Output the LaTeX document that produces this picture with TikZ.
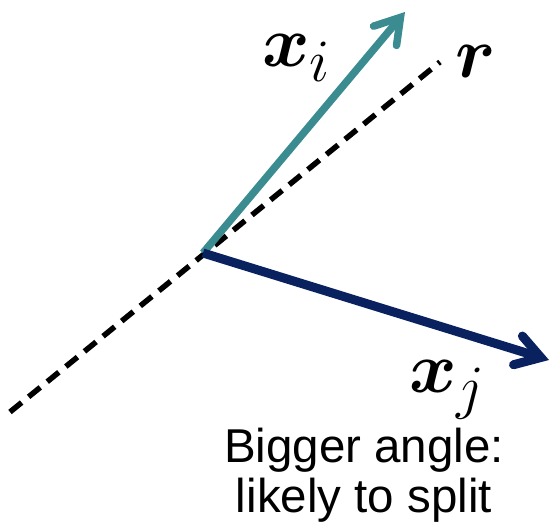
\documentclass[tikz,border=0pt]{standalone}
\usepackage{amsmath,bm,graphicx}
\usepackage{fontspec}
\setmainfont{Liberation Sans}
\usetikzlibrary{arrows.meta,positioning,calc}

\definecolor{tealvec}{HTML}{3A8C90}
\definecolor{navyvec}{HTML}{0A2160}

\newcommand{\biglabel}[1]{\scalebox{2.9}{\Huge$#1$}}

\begin{document}
\begin{tikzpicture}[
    x=1pt, y=-1pt,
    vec/.style={line width=7.5pt, -{Straight Barb[length=24pt, width=30pt, line cap=round]}},
    ref/.style={line width=5.5pt, dash pattern=on 15pt off 9pt},
    mlabel/.style={inner sep=0pt, anchor=base west},
    caption/.style={font=\fontsize{47.5}{50}\selectfont, align=center, inner sep=0pt, anchor=base},
]
\useasboundingbox (0,0) rectangle (555,529);

\coordinate (o) at (203,253);
\coordinate (rstart) at (10,412);
\coordinate (rend) at (440,62);
\coordinate (xi) at (405,12);
\coordinate (xj) at (549,360);

\draw[ref] (rstart) -- (rend);
\draw[vec, tealvec] (o) -- (xi);
\draw[vec, navyvec, line width=9pt] (o) -- (xj);

\node[mlabel] (lxi) at (262,67) {\biglabel{\bm{x}_i}};
\node[mlabel] (lr) at (455,78) {\biglabel{\bm{r}}};
\node[mlabel] (lxj) at (409,393) {\biglabel{\bm{x}_j}};

\node[caption] (cap) at (364,513) {Bigger angle:\\likely to split};

\end{tikzpicture}
\end{document}
